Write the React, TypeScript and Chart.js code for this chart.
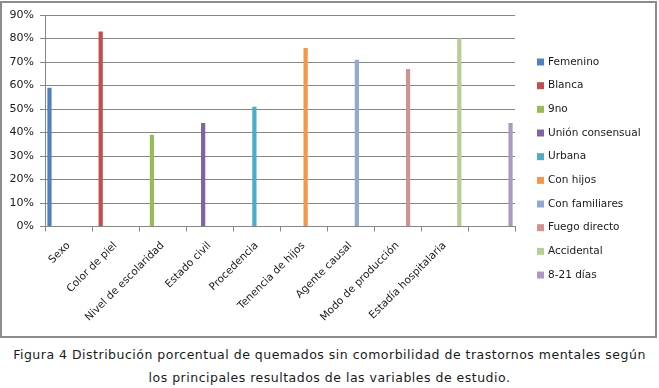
import React, { useEffect, useRef } from "react";
import { Chart, registerables } from "chart.js";

Chart.register(...registerables);

const categories = [
  "Sexo",
  "Color de piel",
  "Nivel de escolaridad",
  "Estado civil",
  "Procedencia",
  "Tenencia de hijos",
  "Agente causal",
  "Modo de producción",
  "Estadía hospitalaria",
  "",
];

const seriesNames = [
  "Femenino",
  "Blanca",
  "9no",
  "Unión consensual",
  "Urbana",
  "Con hijos",
  "Con familiares",
  "Fuego directo",
  "Accidental",
  "8-21 días",
];

const seriesValues = [59, 83, 39, 44, 51, 76, 71, 67, 80, 44];

const seriesColors = [
  "#4F81BD",
  "#C0504D",
  "#9BBB59",
  "#8064A2",
  "#4BACC6",
  "#F79646",
  "#93A9CF",
  "#D09392",
  "#B9CD96",
  "#A99BBD",
];

const yTicks = [0, 10, 20, 30, 40, 50, 60, 70, 80, 90];

const FONT = "'DejaVu Sans', Verdana, sans-serif";

const legendPlugin = {
  id: "sideLegend",
  afterDraw(chart: any) {
    const ctx = chart.ctx;
    const area = chart.chartArea;
    ctx.save();
    ctx.font = `10.5px ${FONT}`;
    ctx.textBaseline = "middle";
    ctx.textAlign = "left";
    chart.data.datasets.forEach((ds: any, i: number) => {
      const y = 62 + i * 23.67;
      const x = area.right + 22;
      ctx.fillStyle = ds.backgroundColor;
      ctx.fillRect(x, y - 3.5, 7, 7);
      ctx.fillStyle = "#1a1a1a";
      ctx.fillText(ds.label, x + 11, y);
    });
    ctx.restore();
  },
};

export default function App() {
  const ref = useRef<HTMLCanvasElement | null>(null);

  useEffect(() => {
    if (!ref.current) return;
    const datasets = seriesNames.map((name, i) => ({
      label: name,
      data: categories.map((_, j) => (j === i ? seriesValues[i] : null)),
      backgroundColor: seriesColors[i],
      borderWidth: 0,
      categoryPercentage: 0.9,
      barPercentage: 1,
    }));
    const chart = new Chart(ref.current, {
      type: "bar",
      data: { labels: categories, datasets },
      options: {
        animation: false,
        responsive: false,
        maintainAspectRatio: false,
        layout: { padding: { top: 15, right: 144, left: 0, bottom: 0 } },
        plugins: {
          legend: { display: false },
          tooltip: { enabled: false },
          title: { display: false },
        },
        scales: {
          x: {
            offset: true,
            grid: {
              display: true,
              drawOnChartArea: false,
              drawTicks: true,
              tickLength: 5,
              color: "#868686",
              offset: true,
            },
            border: { display: true, color: "#868686", width: 1 },
            ticks: {
              autoSkip: false,
              minRotation: 45,
              maxRotation: 45,
              padding: 8,
              color: "#1a1a1a",
              font: { family: FONT, size: 10.5 },
            },
            afterFit(scale: any) {
              scale.height = 340 - 226.5;
            },
          },
          y: {
            min: 0,
            max: 90,
            afterBuildTicks(scale: any) {
              scale.ticks = yTicks.map((v) => ({ value: v }));
            },
            grid: {
              color: "#868686",
              lineWidth: 1,
              drawTicks: true,
              tickLength: 5,
            },
            border: { display: true, color: "#868686", width: 1 },
            ticks: {
              padding: 6,
              color: "#1a1a1a",
              font: { family: FONT, size: 11 },
              callback: (v: any) => `${v}%`,
            },
            afterFit(scale: any) {
              scale.width = 45;
            },
          },
        },
      },
      plugins: [legendPlugin],
    });
    return () => chart.destroy();
  }, []);

  return (
    <div style={{ position: "absolute", left: 0, top: 0, width: 659, height: 388, background: "#fff" }}>
      <div
        style={{
          position: "absolute",
          left: 0,
          top: 1,
          width: 657,
          height: 337,
          boxSizing: "border-box",
          border: "2px solid #8c8c8c",
        }}
      />
      <canvas
        ref={ref}
        width={659}
        height={340}
        style={{ position: "absolute", left: 0, top: 0, width: 659, height: 340 }}
      />
      <div
        style={{
          position: "absolute",
          left: 0,
          top: 343,
          width: 659,
          textAlign: "center",
          fontFamily: FONT,
          fontSize: 12.5,
          letterSpacing: "0.5px",
          lineHeight: "23px",
          color: "#1a1a1a",
        }}
      >
        Figura 4 Distribución porcentual de quemados sin comorbilidad de trastornos mentales según
        <br />
        los principales resultados de las variables de estudio.
      </div>
    </div>
  );
}
